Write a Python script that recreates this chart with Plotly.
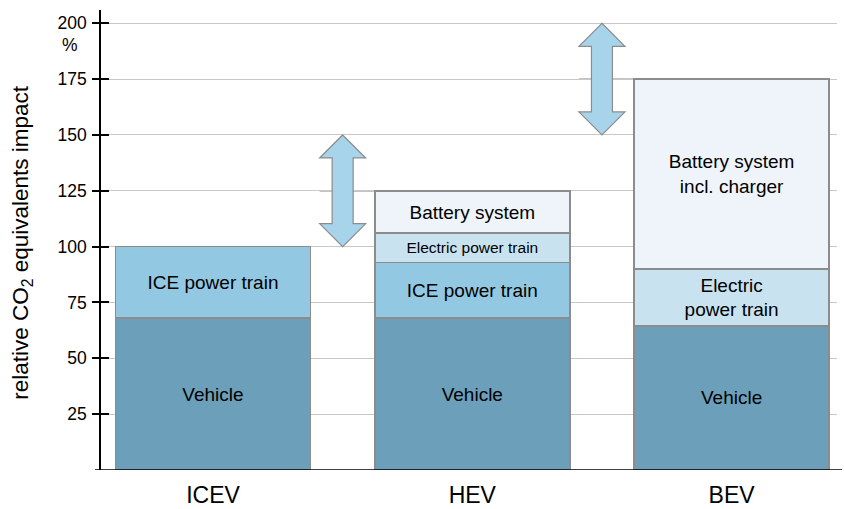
import plotly.graph_objects as go

# ---- data ----
categories = ["ICEV", "HEV", "BEV"]
vehicle = [68, 68, 64.5]
ice_power_train = [32, 25, 0]
electric_power_train = [0, 13, 25.5]
battery_system = [0, 19, 85]

vehicle_text = ["Vehicle", "Vehicle", "Vehicle"]
ice_text = ["ICE power train", "ICE power train", ""]
electric_text = ["", "Electric power train", "Electric<br>power train"]
battery_text = ["", "Battery system", "Battery system<br>incl. charger"]

arrow_x = [0.5, 1.5]
arrow_low = [100, 150]
arrow_high = [150, 200]

y_ticks = [25, 50, 75, 100, 125, 150, 175, 200]

# ---- styling ----
FONT = "Liberation Sans, Arial, Helvetica, sans-serif"
C_VEH = "#6b9fba"
C_ICE = "#93c8e2"
C_EL = "#c9e2f0"
C_BAT = "#eef4f9"
C_ARROW = "#a8d4eb"
EDGE = "#8c8c8c"

xs = list(range(len(categories)))
W = 195 / 259.3

fig = go.Figure()


def add_layer(vals, color, texts, sizes):
    idx = [i for i, v in enumerate(vals) if v > 0]
    fig.add_trace(go.Bar(
        x=[xs[i] for i in idx], y=[vals[i] for i in idx], width=W,
        marker=dict(color=color, line=dict(color=EDGE, width=1.5)),
        text=[texts[i] for i in idx], textposition="inside", insidetextanchor="middle", textangle=0,
        textfont=dict(family=FONT, size=[sizes[i] for i in idx], color="black"),
        hoverinfo="skip", showlegend=False,
    ))


add_layer(vehicle, C_VEH, vehicle_text, [19, 19, 19])
add_layer(ice_power_train, C_ICE, ice_text, [19, 19, 19])
add_layer(electric_power_train, C_EL, electric_text, [15.5, 15.5, 19])
add_layer(battery_system, C_BAT, battery_text, [19, 19, 19])

totals = [v + i + e + b for v, i, e, b in zip(vehicle, ice_power_train, electric_power_train, battery_system)]

shapes = []
head_len = 10.3
head_hw = 23 / 259.3
shaft_hw = 10.5 / 259.3
for k, (ax, lo, hi) in enumerate(zip(arrow_x, arrow_low, arrow_high)):
    nxt = k + 1
    shapes.append(dict(type="line", xref="x", yref="y", x0=ax - head_hw, x1=nxt - W / 2,
                       y0=totals[nxt], y1=totals[nxt], line=dict(color="#8a8a8a", width=1.5), layer="below"))
    path = (f"M {ax},{hi} L {ax + head_hw},{hi - head_len} L {ax + shaft_hw},{hi - head_len} "
            f"L {ax + shaft_hw},{lo + head_len} L {ax + head_hw},{lo + head_len} L {ax},{lo} "
            f"L {ax - head_hw},{lo + head_len} L {ax - shaft_hw},{lo + head_len} "
            f"L {ax - shaft_hw},{hi - head_len} L {ax - head_hw},{hi - head_len} Z")
    shapes.append(dict(type="path", xref="x", yref="y", path=path, fillcolor=C_ARROW,
                       line=dict(color="#8c8c8c", width=1.2), layer="above"))

# geometry
left_px, right_px = 101, 837
plot_w = right_px - left_px
y_top_px, y_bot_px = 10, 470.3
plot_h = y_bot_px - y_top_px
ymax = (y_bot_px - y_top_px) / 2.235
x0 = (left_px - 213) / 259.3
x1 = (right_px - 213) / 259.3

shapes.append(dict(type="line", xref="paper", yref="y", x0=(95 - left_px) / plot_w,
                   x1=(842 - left_px) / plot_w, y0=0, y1=0, line=dict(color="black", width=1.6)))

fig.update_layout(
    barmode="stack",
    width=844, height=509,
    margin=dict(l=left_px, r=844 - right_px, t=y_top_px, b=509 - y_bot_px, autoexpand=False),
    paper_bgcolor="white", plot_bgcolor="white",
    font=dict(family=FONT, color="black"),
    shapes=shapes,
    xaxis=dict(range=[x0, x1], tickvals=xs, ticktext=categories, showgrid=False, zeroline=False,
               showline=False, ticks="", tickfont=dict(size=23, family=FONT), ticklabelstandoff=9,
               automargin=False),
    yaxis=dict(range=[0, ymax], tickvals=y_ticks, showgrid=True, gridcolor="#c8c8c8", gridwidth=1.2,
               zeroline=False, showline=True, linecolor="black", linewidth=1.6,
               ticks="outside", ticklen=7, tickwidth=1.6, tickcolor="black",
               tickfont=dict(size=17.5, family=FONT), ticklabelstandoff=2, automargin=False),
    yaxis2=dict(range=[0, ymax], tickvals=y_ticks, overlaying="y", showgrid=False, zeroline=False,
                showline=False, ticks="inside", ticklen=8, tickwidth=1.6, tickcolor="black",
                showticklabels=False, side="left", automargin=False),
    annotations=[
        dict(text="relative CO<sub>2</sub> equivalents impact", textangle=-90, xref="paper", yref="paper",
             x=(22 - left_px) / plot_w, y=(y_bot_px - 243) / plot_h, showarrow=False,
             font=dict(size=22.5, family=FONT), xanchor="center", yanchor="middle"),
        dict(text="%", xref="paper", yref="paper", x=(70 - left_px) / plot_w,
             y=(y_bot_px - 45) / plot_h, showarrow=False, font=dict(size=17.5, family=FONT),
             xanchor="center", yanchor="middle"),
    ],
)
fig.add_trace(go.Scatter(x=[x0], y=[0], yaxis="y2", mode="markers", marker=dict(opacity=0),
                         showlegend=False, hoverinfo="skip"))

fig.write_html("out.html", config={"displayModeBar": False},
               post_script="document.body.style.margin='0';document.body.style.overflow='hidden';")
